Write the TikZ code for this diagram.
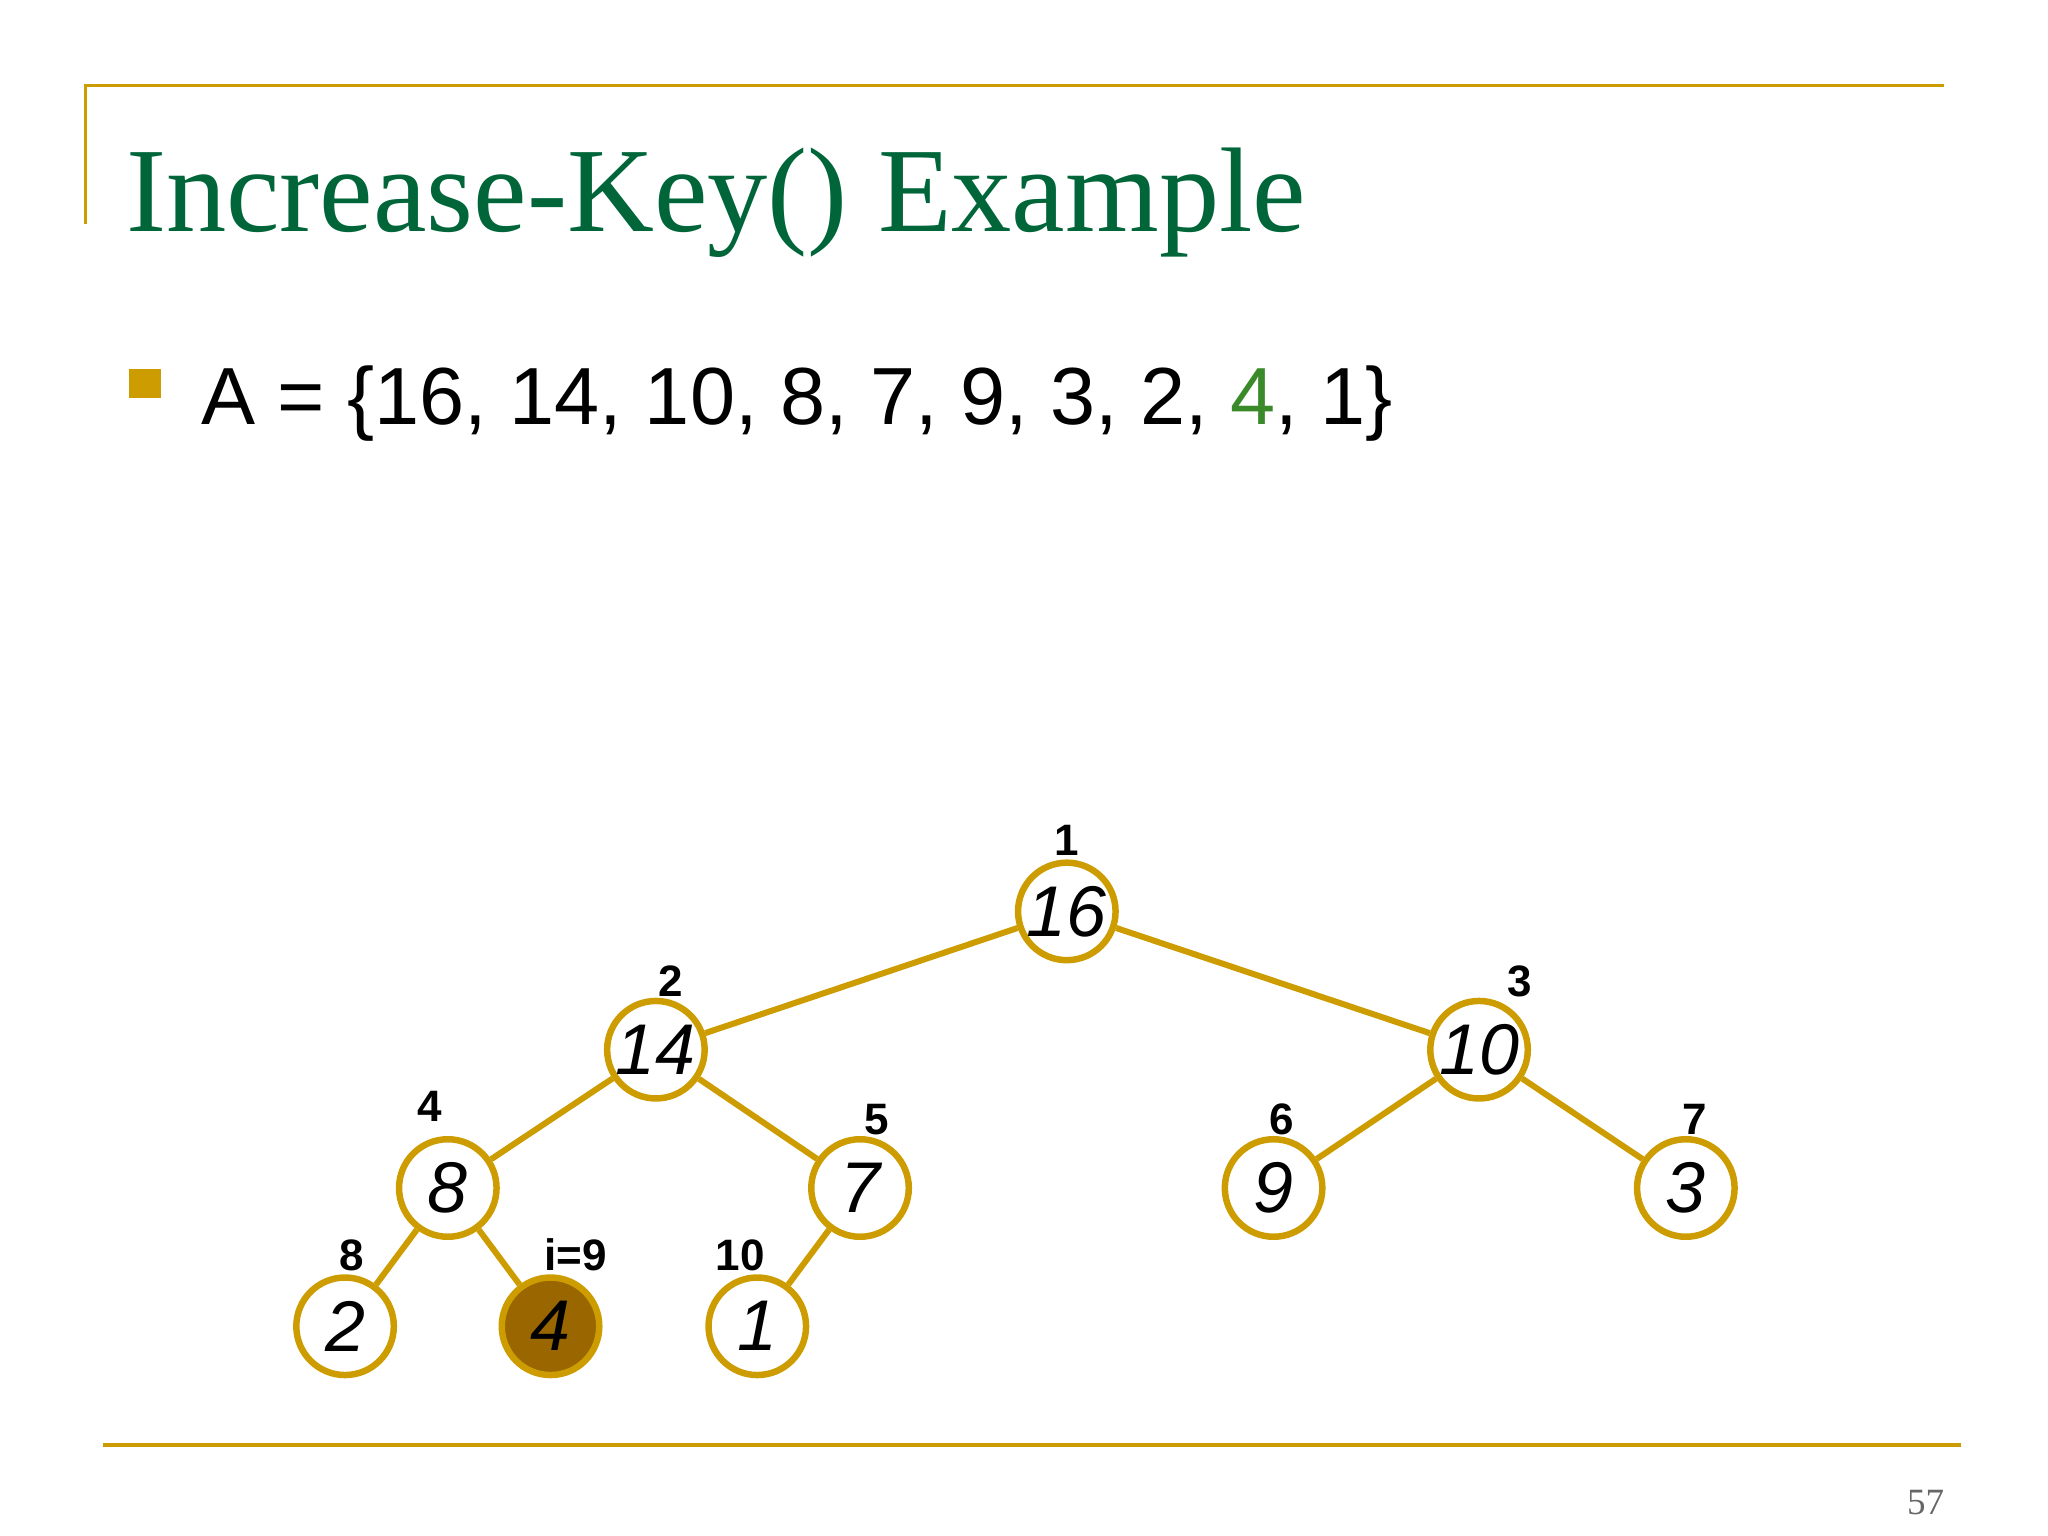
\documentclass[tikz,border=0pt]{standalone}
\usepackage{fontspec}
\setmainfont{Liberation Sans}
\newfontfamily\titlefont{Liberation Serif}
\definecolor{gold}{HTML}{CC9C00}
\definecolor{ttl}{HTML}{00663A}
\definecolor{fillb}{HTML}{996600}
\definecolor{grn}{HTML}{3A8A2A}
\begin{document}
\begin{tikzpicture}[x=0.01cm,y=-0.01cm,
  hn/.style={circle,draw=gold,line width=1.4pt,fill=white,minimum size=0.74cm,inner sep=0pt,font=\fontsize{15.5}{16}\selectfont\itshape},
  ed/.style={draw=gold,line width=1.3pt},
  idx/.style={font=\fontsize{9.5}{10}\selectfont\bfseries}]
\useasboundingbox (0,0) rectangle (1555,1166);
\draw[gold,line width=0.8pt] (65,170) -- (65,65) -- (1476,65);
\draw[gold,line width=0.8pt] (78,1097) -- (1489,1097);
\node[anchor=base west,text=ttl,font=\titlefont\fontsize{26}{28}\selectfont,inner sep=0pt] (title) at (95,176) {Increase-Key() Example};
\fill[gold] (98,280) rectangle (122,302);
\node[anchor=base west,font=\fontsize{17.5}{19}\selectfont,inner sep=0pt] (arr) at (152,322) {A = \{16, 14, 10, 8, 7, 9, 3, 2, \textcolor{grn}{4}, 1\}};
\node[hn] (n1) at (810,692) {16};
\node[hn] (n2) at (498,797) {14};
\node[hn] (n3) at (1123,797) {10};
\node[hn] (n4) at (340,902) {8};
\node[hn] (n5) at (653,902) {7};
\node[hn] (n6) at (967,902) {9};
\node[hn] (n7) at (1280,902) {3};
\node[hn] (n8) at (262,1007) {2};
\node[hn,fill=fillb] (n9) at (418,1007) {4};
\node[hn] (n10) at (575,1007) {1};
\draw[ed] (n1)--(n2) (n1)--(n3) (n2)--(n4) (n2)--(n5) (n3)--(n6) (n3)--(n7) (n4)--(n8) (n4)--(n9) (n5)--(n10);
\node[idx] (l1) at (810,638) {1};
\node[idx] (l2) at (509,745) {2};
\node[idx] (l3) at (1154,745) {3};
\node[idx] (l4) at (326,840) {4};
\node[idx] (l5) at (666,850) {5};
\node[idx] (l6) at (973,850) {6};
\node[idx] (l7) at (1287,850) {7};
\node[idx] (l8) at (267,953) {8};
\node[idx] (l9) at (437,953) {i=9};
\node[idx] (l10) at (562,953) {10};
\node[text=gray!80!black,font=\titlefont\fontsize{8}{9}\selectfont] (pg) at (1462,1141) {57};
\end{tikzpicture}
\end{document}
